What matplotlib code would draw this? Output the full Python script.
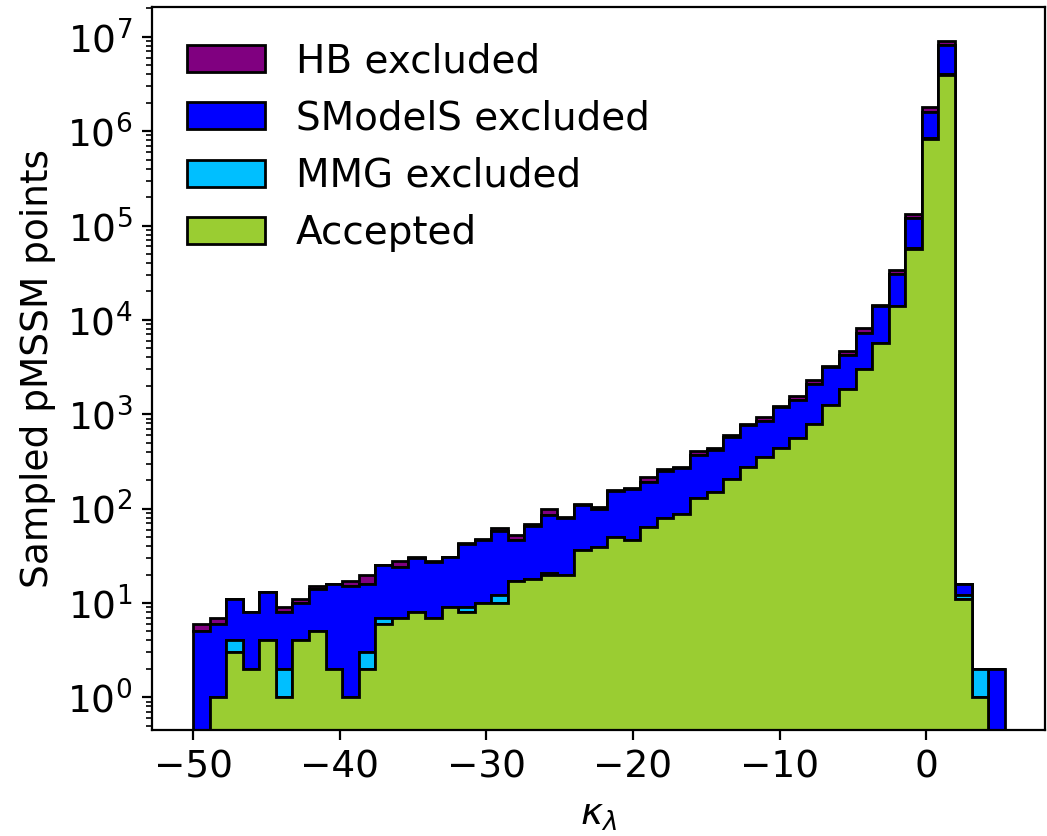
import numpy as np
import matplotlib.pyplot as plt

# kappa_lambda bins (49 bins between -50 and ~5.35)
edges = np.linspace(-50, 5.35, 50)
centers = 0.5 * (edges[:-1] + edges[1:])

# counts per bin
hb_excl = [1, 1, 0, 0, 0, 1, 1, 1, 0, 2,
           4, 0, 4, 1, 1, 0, 1, 1, 5, 7,
           2, 13, 2, 3, 4, 5, 6, 22, 10, 9,
           41, 14, 20, 25, 88, 38, 140, 200, 110, 460,
           830, 450, 3100, 12000, 180000, 900000, 0, 0, 0]
smodels_excl = [5, 5, 7, 6, 9, 6, 6, 9, 14, 14,
                13, 18, 17, 22, 20, 22, 33, 37, 46, 29,
                48, 64, 60, 72, 61, 102, 113, 128, 170, 181,
                240, 270, 372, 483, 498, 756, 848, 1305, 1900, 2410,
                4310, 8260, 16600, 62000, 770000, 4200000, 4, 0, 2]
mmg_excl = [0, 0, 1, 0, 0, 1, 0, 0, 0, 0,
            1, 1, 0, 0, 0, 0, 1, 0, 2, 0,
            0, 1, 0, 0, 0, 0, 0, 0, 0, 0,
            0, 0, 0, 0, 0, 0, 0, 0, 0, 0,
            0, 0, 0, 2000, 10000, 50000, 1, 1, 0]
accepted = [0, 1, 3, 2, 4, 1, 4, 5, 2, 1,
            2, 6, 7, 8, 7, 9, 8, 10, 10, 17,
            18, 20, 20, 36, 39, 50, 47, 64, 80, 87,
            128, 150, 208, 277, 353, 434, 562, 785, 1250, 1830,
            2990, 5640, 14000, 56000, 830000, 3950000, 11, 1, 0]

labels = ['Accepted', 'MMG excluded', 'SModelS excluded', 'HB excluded']
colors = ['yellowgreen', 'deepskyblue', 'blue', 'purple']

fig = plt.figure(figsize=(5.235, 4.18), dpi=200)
ax = fig.add_axes([0.1452, 0.1268, 0.8529, 0.8648])

ax.hist([centers] * 4, bins=edges,
        weights=[accepted, mmg_excl, smodels_excl, hb_excl],
        stacked=True, histtype='stepfilled', color=colors,
        edgecolor='black', linewidth=1, label=labels, log=True)

ax.set_xlim(-52.8, 8.1)
ax.set_ylim(0.45, 2.07e7)
ax.set_xlabel(r'$\kappa_\lambda$', fontsize=13.5)
ax.set_ylabel('Sampled pMSSM points', fontsize=13.5)
ax.tick_params(labelsize=13.5)

# stacked hist hands back the top layer first, which is the order we want
ax.legend(loc='upper left', frameon=False, fontsize=14)

fig.savefig('out.png', dpi=200)
